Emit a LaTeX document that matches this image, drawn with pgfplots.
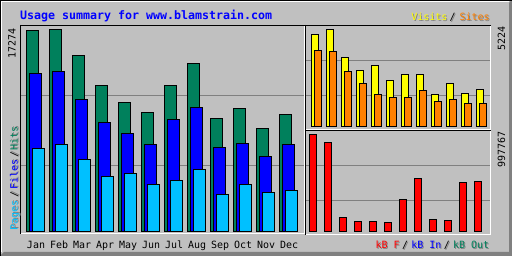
\documentclass[border=0pt]{standalone}
\usepackage{pgfplots}
\usepackage{pgfplotstable}
\pgfplotsset{compat=1.18}
\usepackage{fontspec}
\newfontfamily\gdfont{DejaVu Sans Mono}
\definecolor{bggrey}{HTML}{C0C0C0}
\definecolor{dkgrey}{HTML}{808080}
\definecolor{hitscol}{HTML}{00805C}
\definecolor{filescol}{HTML}{0000FF}
\definecolor{pagescol}{HTML}{00C0FF}
\definecolor{visitscol}{HTML}{FFFF00}
\definecolor{sitescol}{HTML}{FF8000}
\definecolor{kbytescol}{HTML}{FF0000}
\newcommand\sm{\gdfont\fontsize{9.97}{10}\selectfont}
% [rotation]{x}{y}{colour}{text}  -- text with a 1px dark grey shadow
\newcommand\shtxt[5][0]{%
  \node[rotate=#1,anchor=base west,inner sep=0pt,outer sep=0pt,font=\sm] at (#2,#3)
    {\makebox[0pt][l]{\hspace{1pt}\raisebox{-1pt}{\textcolor{dkgrey}{#5}}}\textcolor{#4}{#5}};}

\pgfplotstableread{
m hits  files pages visits sites kbytes
0 17189 13530 7148 4958 4104 997767
1 17274 13700 7488 5224 4051 916300
2 15063 11318 6212 3731 2985 142538
3 12509 9360  4765 3039 2345 101813
4 11062 8424  5021 3305 1759 101813
5 10211 7488  4085 2505 1599 91632
6 12509 9616  4425 2825 1599 335983
7 14382 10637 5361 2825 1972 549800
8 9701  7233  3148 1759 1386 122176
9 10552 7574  4085 2345 1492 111994
10 8850 6467  3319 1812 1279 509065
11 10041 7488 3489 2026 1279 519246
}\usage

\pgfplotsset{gdpanel/.style={scale only axis, anchor=south west,
  axis line style={draw=none}, xtick=\empty, yticklabels={},
  scaled ticks=false, scaled y ticks=false,
  major tick length=0pt, tick style={draw=none},
  ymajorgrids, grid style={dkgrey, line width=1pt}, clip=false},
  gdbar/.style={ybar, draw=black, line width=1pt}}

\begin{document}
\begin{tikzpicture}[x=1pt,y=1pt]
\useasboundingbox (0,0) rectangle (512,256);
% background and outer bevel
\fill[bggrey] (0,0) rectangle (512,256);
\fill[dkgrey] (512,256) -- (509,253) -- (509,4) -- (4,4) -- (0,0) -- (512,0) -- cycle;
\draw[black, line width=1pt] (0,255.5) -- (512,255.5);
\draw[black, line width=1pt] (0.5,0) -- (0.5,256);
\draw[white, line width=1pt] (1,254.5) -- (509,254.5);
\draw[white, line width=1pt] (1.5,255) -- (1.5,4);

% main panel: hits / files / pages
\begin{axis}[gdpanel, at={(20pt,23pt)}, width=285pt, height=208pt,
  xmin=-0.6913, xmax=11.7, ymin=-102.6, ymax=17684.5,
  ytick={5669.6,11655.6}]
\addplot[gdbar, bar width=12pt, bar shift=-3pt, fill=hitscol] table[x=m,y=hits]{\usage};
\addplot[gdbar, bar width=12pt, bar shift=0pt, fill=filescol] table[x=m,y=files]{\usage};
\addplot[gdbar, bar width=12pt, bar shift=3pt, fill=pagescol] table[x=m,y=pages]{\usage};
\end{axis}

% upper right: visits / sites
\begin{axis}[gdpanel, at={(305pt,126pt)}, width=186pt, height=105pt,
  xmin=-0.6333, xmax=11.7667, ymin=-172.3, ymax=5482.5,
  ytick={1685.7,3570.6}]
\addplot[gdbar, bar width=7pt, bar shift=0pt, fill=visitscol] table[x=m,y=visits]{\usage};
\addplot[gdbar, bar width=7pt, bar shift=3.2pt, fill=sitescol] table[x=m,y=sites]{\usage};
\end{axis}

% lower right: kbytes
\begin{axis}[gdpanel, at={(305pt,22pt)}, width=186pt, height=104pt,
  xmin=-0.5467, xmax=11.8533, ymin=-22630, ymax=1047135,
  ytick={321959,681982}]
\addplot[gdbar, bar width=7pt, bar shift=0pt, fill=kbytescol] table[x=m,y=kbytes]{\usage};
\end{axis}

% panel frames
\begin{scope}[line width=1pt]
\draw[white] (304.5,230) -- (304.5,22);
\draw[white] (20,22.5) -- (305,22.5);
\draw[black] (20,230.5) -- (305,230.5);
\draw[black] (20.5,231) -- (20.5,22);
\draw[white] (490.5,230) -- (490.5,126);
\draw[white] (305,126.5) -- (491,126.5);
\draw[black] (305,230.5) -- (491,230.5);
\draw[black] (305.5,231) -- (305.5,126);
\draw[white] (490.5,125) -- (490.5,21);
\draw[white] (305,21.5) -- (491,21.5);
\draw[black] (305,125.5) -- (491,125.5);
\draw[black] (305.5,126) -- (305.5,21);
\end{scope}

% title
\node[anchor=base west,inner sep=0pt,outer sep=0pt,text=filescol,
  font=\gdfont\bfseries\fontsize{11.63}{12}\selectfont] at (20,236) {Usage summary for www.blamstrain.com};

% legends
\shtxt{411.3}{235}{visitscol}{Visits}
\shtxt{449.6}{235}{black}{/}
\shtxt{459.6}{235}{sitescol}{Sites}

\shtxt{375.6}{7}{kbytescol}{kB F}
\shtxt{402}{7}{black}{/}
\shtxt{411.3}{7}{filescol}{kB In}
\shtxt{443.8}{7}{black}{/}
\shtxt{453}{7}{hitscol}{kB Out}

\shtxt[90]{17.5}{25}{pagescol}{Pages}
\shtxt[90]{17.5}{58}{black}{/}
\shtxt[90]{17.5}{66}{filescol}{Files}
\shtxt[90]{17.5}{98}{black}{/}
\shtxt[90]{17.5}{105}{hitscol}{Hits}

% max values
\node[rotate=90,anchor=base east,inner sep=0pt,font=\sm] at (15.5,227.7) {17274};
\node[rotate=90,anchor=base east,inner sep=0pt,font=\sm] at (505,229.3) {5224};
\node[rotate=90,anchor=base east,inner sep=0pt,font=\sm] at (505,124.5) {997767};

% month labels
\foreach \mo [count=\i from 0] in {Jan,Feb,Mar,Apr,May,Jun,Jul,Aug,Sep,Oct,Nov,Dec}
  \node[anchor=base west,inner sep=0pt,outer sep=0pt,font=\sm] at ({27+23*\i},7) {\mo};
\end{tikzpicture}
\end{document}
